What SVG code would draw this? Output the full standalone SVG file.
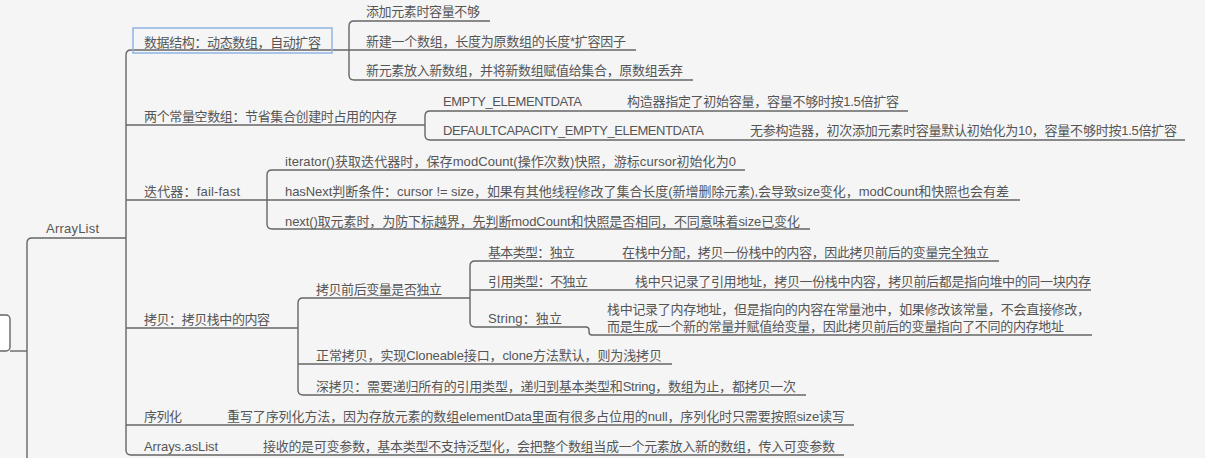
<svg xmlns="http://www.w3.org/2000/svg" width="1205" height="458" viewBox="0 0 1205 458">
<style>
text{font-family:"Liberation Sans","Noto Sans CJK SC",sans-serif;font-size:13px;fill:#555}
.ln{fill:none;stroke:#666;stroke-width:1.4}
</style>
<rect x="0" y="0" width="1205" height="458" fill="#f5f5f6"/>
<g id="connectors">
<path class="ln" d="M27,458 V243 Q27,238 32,238 H126"/>
<path class="ln" d="M10,351 H27"/>
<path class="ln" d="M349,50 H131 Q126,50 126,55 V450 Q126,455 131,455 H844"/>
<path class="ln" d="M126,125 H425"/>
<path class="ln" d="M126,200 H1020"/>
<path class="ln" d="M126,328 H298"/>
<path class="ln" d="M126,425 H854"/>
<path class="ln" d="M490,21 H354 Q349,21 349,26 V75 Q349,80 354,80 H693"/>
<path class="ln" d="M349,50 H636"/>
<path class="ln" d="M908,111 H430 Q425,111 425,116 V135 Q425,140 430,140 H1185"/>
<path class="ln" d="M745,170 H272 Q267,170 267,175 V224 Q267,229 272,229 H810"/>
<path class="ln" d="M470,298 H303 Q298,298 298,303 V390 Q298,395 303,395 H806"/>
<path class="ln" d="M298,364 H672"/>
<path class="ln" d="M999,261 H475 Q470,261 470,266 V322 Q470,327 475,327 H586 Q589,327 589,330 V332 Q589,335 592,335 H1092"/>
<path class="ln" d="M470,290 H1091"/>
</g>
<g id="root-parent"><rect x="-10" y="315" width="20" height="36" rx="4" fill="#fff" stroke="#666" stroke-width="1.4"/></g>
<g id="arraylist"><text x="46" y="233" textLength="53">ArrayList</text></g>
<g id="n-datastruct">
<rect x="133" y="28" width="199" height="25" fill="none" stroke="#8fb4e3" stroke-width="1.5"/>
<text x="144" y="46.5" textLength="177">数据结构：动态数组，自动扩容</text>
</g>
<g id="n-ds1"><text x="366" y="16" textLength="114">添加元素时容量不够</text></g>
<g id="n-ds2"><text x="366" y="45.5" textLength="260">新建一个数组，长度为原数组的长度*扩容因子</text></g>
<g id="n-ds3"><text x="366" y="75" textLength="317">新元素放入新数组，并将新数组赋值给集合，原数组丢弃</text></g>
<g id="n-const"><text x="144" y="120.5" textLength="253">两个常量空数组：节省集合创建时占用的内存</text></g>
<g id="n-empty"><text x="443" y="106" textLength="139">EMPTY_ELEMENTDATA</text></g>
<g id="n-empty-d"><text x="627" y="106" textLength="272">构造器指定了初始容量，容量不够时按1.5倍扩容</text></g>
<g id="n-default"><text x="443" y="135" textLength="261">DEFAULTCAPACITY_EMPTY_ELEMENTDATA</text></g>
<g id="n-default-d"><text x="750" y="135" textLength="427">无参构造器，初次添加元素时容量默认初始化为10，容量不够时按1.5倍扩容</text></g>
<g id="n-iter"><text x="144" y="196" textLength="96">迭代器：fail-fast</text></g>
<g id="n-iter1"><text x="285" y="166" textLength="451">iterator()获取迭代器时，保存modCount(操作次数)快照，游标cursor初始化为0</text></g>
<g id="n-iter2"><text x="285" y="196" textLength="724">hasNext判断条件：cursor != size，如果有其他线程修改了集合长度(新增删除元素),会导致size变化，modCount和快照也会有差</text></g>
<g id="n-iter3"><text x="285" y="225.5" textLength="515">next()取元素时，为防下标越界，先判断modCount和快照是否相同，不同意味着size已变化</text></g>
<g id="n-copy"><text x="144" y="324" textLength="126">拷贝：拷贝栈中的内容</text></g>
<g id="n-copy-indep"><text x="316" y="294" textLength="126">拷贝前后变量是否独立</text></g>
<g id="n-basic"><text x="488" y="257" textLength="87">基本类型：独立</text></g>
<g id="n-basic-d"><text x="622" y="257" textLength="367">在栈中分配，拷贝一份栈中的内容，因此拷贝前后的变量完全独立</text></g>
<g id="n-ref"><text x="488" y="286" textLength="100">引用类型：不独立</text></g>
<g id="n-ref-d"><text x="635" y="286" textLength="456">栈中只记录了引用地址，拷贝一份栈中内容，拷贝前后都是指向堆中的同一块内存</text></g>
<g id="n-string"><text x="488" y="323" textLength="74">String：独立</text></g>
<g id="n-string-d">
<text x="607" y="313.5" textLength="483">栈中记录了内存地址，但是指向的内容在常量池中，如果修改该常量，不会直接修改，</text>
<text x="607" y="331" textLength="457">而是生成一个新的常量并赋值给变量，因此拷贝前后的变量指向了不同的内存地址</text>
</g>
<g id="n-shallow"><text x="316" y="360" textLength="346">正常拷贝，实现Cloneable接口，clone方法默认，则为浅拷贝</text></g>
<g id="n-deep"><text x="316" y="390.5" textLength="480">深拷贝：需要递归所有的引用类型，递归到基本类型和String，数组为止，都拷贝一次</text></g>
<g id="n-serial"><text x="144" y="420.5" textLength="38">序列化</text></g>
<g id="n-serial-d"><text x="227" y="420.5" textLength="618">重写了序列化方法，因为存放元素的数组elementData里面有很多占位用的null，序列化时只需要按照size读写</text></g>
<g id="n-aslist"><text x="144" y="450.5" textLength="74">Arrays.asList</text></g>
<g id="n-aslist-d"><text x="263" y="450.5" textLength="572">接收的是可变参数，基本类型不支持泛型化，会把整个数组当成一个元素放入新的数组，传入可变参数</text></g>
</svg>
